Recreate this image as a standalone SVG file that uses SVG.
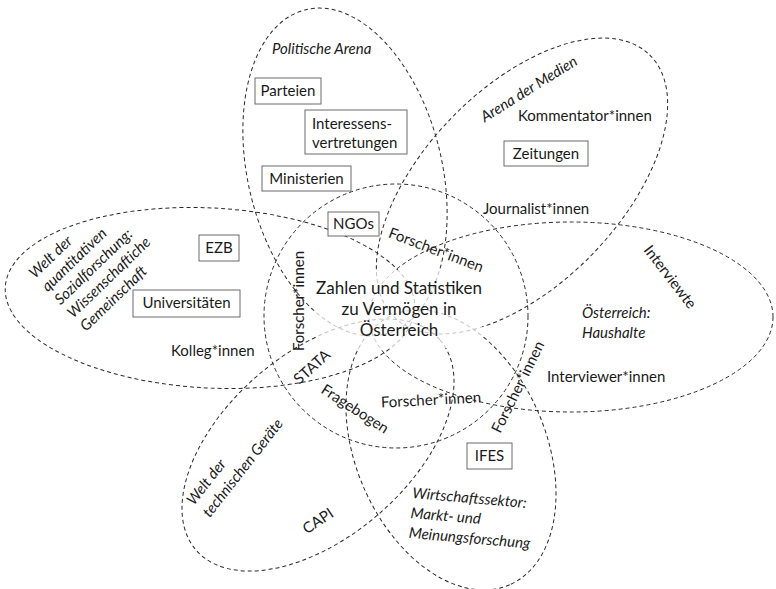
<svg xmlns="http://www.w3.org/2000/svg" width="776" height="589" viewBox="0 0 776 589">
<style>
.p{fill:none;stroke:#2a2a2a;stroke-width:1;stroke-dasharray:4 3}
.b{fill:#fff;stroke:#6a6a6a;stroke-width:1}
.t{font-family:Lato,"Liberation Sans",sans-serif;font-size:15px;fill:#1a1a1a}
.i{font-style:italic}
.m{text-anchor:middle}
.c{font-size:17px}
</style>
<rect width="776" height="589" fill="#fff"/>
<g id="connectors">
<ellipse id="e-politik" class="p" cx="345" cy="172" rx="167" ry="97" transform="rotate(76.4 345 172)"/>
<ellipse id="e-medien" class="p" cx="522" cy="186" rx="183" ry="98" transform="rotate(-45.8 522 186)"/>
<ellipse id="e-quant" class="p" cx="210" cy="298" rx="205" ry="90" transform="rotate(3 210 298)"/>
<ellipse id="e-interviewte" class="p" cx="571" cy="317" rx="202" ry="95"/>
<ellipse id="e-technik" class="p" cx="318" cy="445" rx="161" ry="92" transform="rotate(-40.7 318 445)"/>
<ellipse id="e-wirtschaft" class="p" cx="451" cy="450" rx="147" ry="95" transform="rotate(66.5 451 450)"/>
<circle id="e-zentrum" class="p" cx="396" cy="316" r="132"/>
</g>
<g id="center">
<rect x="316" y="270" width="166" height="78" fill="#fff" opacity="0.72"/>
<text class="t c m" x="399" y="294">Zahlen und Statistiken</text>
<text class="t c m" x="399" y="315">zu Vermögen in</text>
<text class="t c m" x="399" y="336">Österreich</text>
</g>
<g id="politik">
<text class="t i" x="272" y="54">Politische Arena</text>
</g>
<g id="parteien"><rect class="b" x="255" y="78" width="66" height="26"/><text class="t m" x="288" y="96">Parteien</text></g>
<g id="interessen"><rect class="b" x="305" y="110" width="102" height="44"/><text class="t" x="312" y="129">Interessens-</text><text class="t" x="312" y="148">vertretungen</text></g>
<g id="ministerien"><rect class="b" x="262" y="166" width="89" height="25"/><text class="t m" x="306.5" y="184">Ministerien</text></g>
<g id="ngos"><rect class="b" x="328" y="212" width="51" height="24"/><text class="t m" x="353.5" y="229">NGOs</text></g>
<g id="ezb"><rect class="b" x="199" y="235" width="40" height="26"/><text class="t m" x="219" y="253">EZB</text></g>
<g id="universitaeten"><rect class="b" x="133" y="290" width="107" height="27"/><text class="t m" x="186.5" y="308">Universitäten</text></g>
<g id="kolleg"><text class="t" x="171" y="356">Kolleg*innen</text></g>
<g id="quant" transform="translate(35 279) rotate(-44)">
<text class="t i" x="0" y="0">Welt der</text>
<text class="t i" x="0" y="18.4">quantitativen</text>
<text class="t i" x="0" y="36.8">Sozialforschung:</text>
<text class="t i" x="0" y="55.2">Wissenschaftiche</text>
<text class="t i" x="0" y="73.6">Gemeinschaft</text>
</g>
<g id="technik" transform="translate(194 506) rotate(-52)">
<text class="t i" x="0" y="0">Welt der</text>
<text class="t i" x="0" y="20">technischen Geräte</text>
</g>
<g id="capi"><text class="t m" transform="translate(318 521) rotate(-34)" y="5">CAPI</text></g>
<g id="medien"><text class="t i m" transform="translate(529 89) rotate(-32)" y="5">Arena der Medien</text></g>
<g id="kommentator"><text class="t" x="518" y="121">Kommentator*innen</text></g>
<g id="zeitungen"><rect class="b" x="504" y="141" width="84" height="25"/><text class="t m" x="546" y="159">Zeitungen</text></g>
<g id="journalist"><text class="t" x="483" y="214">Journalist*innen</text></g>
<g id="forscher1"><text class="t m" transform="translate(436 250) rotate(20.8)" y="5">Forscher*innen</text></g>
<g id="forscher2"><text class="t m" transform="translate(299 301) rotate(-90)" y="5">Forscher*innen</text></g>
<g id="stata"><text class="t m" transform="translate(312 367) rotate(-42)" y="5">STATA</text></g>
<g id="fragebogen"><text class="t m" transform="translate(355 409) rotate(33)" y="5">Fragebogen</text></g>
<g id="forscher3"><text class="t m" transform="translate(431 400) rotate(-3)" y="5">Forscher*innen</text></g>
<g id="forscher4"><text class="t m" transform="translate(518 387) rotate(-63.7)" y="5">Forscher*innen</text></g>
<g id="interviewte"><text class="t m" transform="translate(670 277) rotate(52.5)" y="5">Interviewte</text></g>
<g id="haushalte"><text class="t i" x="582" y="318">Österreich:</text><text class="t i" x="582" y="338">Haushalte</text></g>
<g id="interviewer"><text class="t" x="547" y="382">Interviewer*innen</text></g>
<g id="ifes"><rect class="b" x="467" y="443" width="45" height="26"/><text class="t m" x="489.5" y="461">IFES</text></g>
<g id="wirtschaft" transform="translate(412 498) rotate(5)">
<text class="t i" x="0" y="0">Wirtschaftssektor:</text>
<text class="t i" x="0" y="20">Markt- und</text>
<text class="t i" x="0" y="40">Meinungsforschung</text>
</g>
</svg>
